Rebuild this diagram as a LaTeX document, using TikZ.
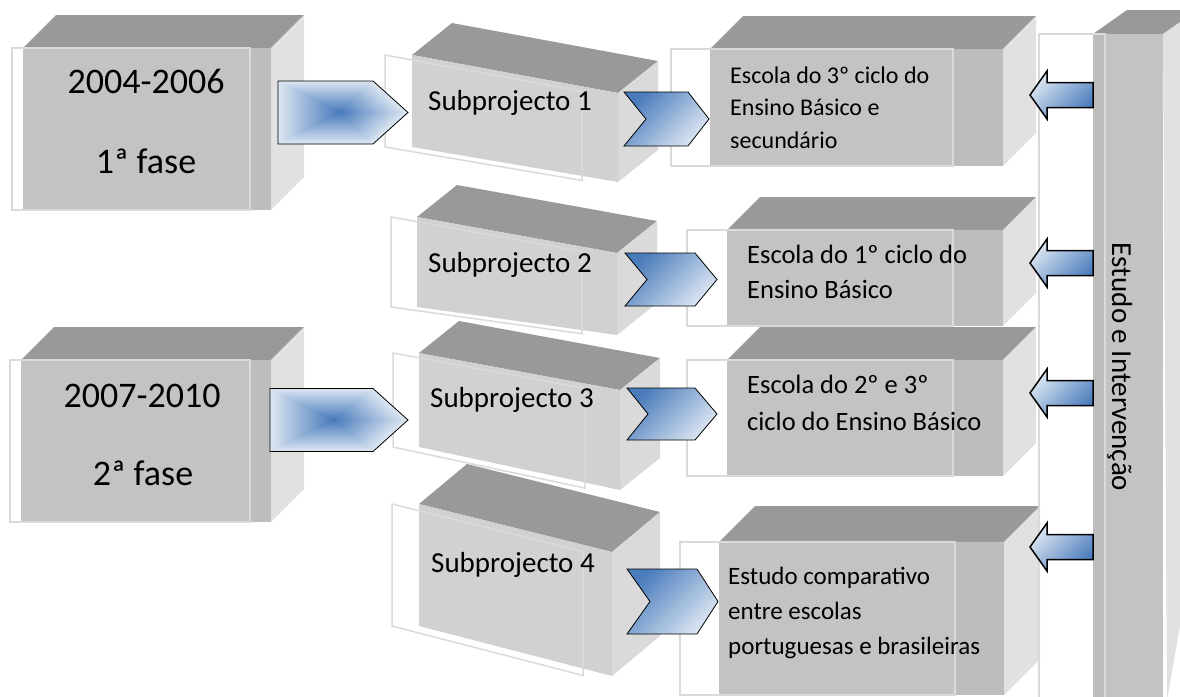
\documentclass[tikz,border=0pt]{standalone}
\usepackage{fontspec}
\setmainfont{Carlito}
\usetikzlibrary{positioning}

\definecolor{topgray}{HTML}{999999}
\definecolor{frontgray}{HTML}{C3C3C3}
\definecolor{stripgray}{HTML}{BDBDBD}
\definecolor{sidegray}{HTML}{E1E1E1}
\definecolor{subfront}{HTML}{D1D1D1}
\definecolor{subside}{HTML}{DADADA}
\definecolor{framegray}{HTML}{DADADA}
\definecolor{darkblue}{HTML}{4A7CBC}
\definecolor{lightblue}{HTML}{DCE6F2}

\begin{document}
\begin{tikzpicture}[x=1pt, y=-1pt,
  topface/.style={fill=topgray},
  frontface/.style={fill=frontgray},
  stripface/.style={fill=stripgray},
  sideface/.style={fill=sidegray},
  frameline/.style={draw=framegray, line width=1.5pt},
  phasearrow/.style={draw=black, line width=0.8pt},
  chevron/.style={draw=black, line width=0.8pt, top color=darkblue, bottom color=lightblue, shading angle=45},
  backarrow/.style={draw=black, line width=1.5pt, top color=lightblue, bottom color=darkblue, shading angle=45},
  phasetext/.style={font=\fontsize{36}{43}\selectfont, inner sep=0pt, anchor=base},
  subtext/.style={font=\fontsize{29}{35}\selectfont, inner sep=0pt, anchor=base west},
  schooltext/.style={inner sep=0pt, anchor=base west, align=left}]

\useasboundingbox (0,0) rectangle (1180,696);
\clip (0,0) rectangle (1180,696);

\foreach \xa/\xs/\xb/\dep/\ya/\yb/\fx in {23/250/271/33/48/210/12, 21/250/271/33/360/522/10,
    710/953/1003/33/49/166/671, 727/953/1003/33/230/326/687,
    727/953/1003/33/360/476/687, 719/955/1004/36/542/695/680}{
  \fill[topface] (\xa,\ya) -- (\xa+\dep,\ya-\dep) -- (\xb+\dep,\ya-\dep) -- (\xb,\ya) -- cycle;
  \fill[sideface] (\xb,\ya) -- (\xb+\dep,\ya-\dep) -- (\xb+\dep,\yb-\dep) -- (\xb,\yb) -- cycle;
  \fill[frontface] (\xa,\ya) rectangle (\xs,\yb);
  \fill[stripface] (\xs,\ya) rectangle (\xb,\yb);
  \draw[frameline] (\fx,\ya) rectangle (\xs,\yb);
}

\foreach \ax/\ay/\bx/\by/\cy/\dy/\ddx/\ddy/\sh/\fr in {412/55/618/93/182/147/40/32/27/582,
    417/217/617/253/335/307/40/32/26/582, 419/353/620/390/490/447/40/32/26/585,
    419/504/612/552/676/626/48/40/27/583}{
  \fill[topface] (\ax,\ay) -- (\ax+\ddx,\ay-\ddy) -- (\bx+\ddx,\by-\ddy) -- (\bx,\by) -- cycle;
  \fill[subside] (\bx,\by) -- (\bx+\ddx,\by-\ddy) -- (\bx+\ddx,\cy-\ddy) -- (\bx,\cy) -- cycle;
  \fill[subfront] (\ax,\ay) -- (\bx,\by) -- (\bx,\cy) -- (\ax,\dy) -- cycle;
  \draw[frameline] (\ax-\sh,\ay) -- (\fr,{\ay+(\by-\ay)*(\fr+\sh-\ax)/(\bx-\ax)})
    -- (\fr,{\dy+(\cy-\dy)*(\fr+\sh-\ax)/(\bx-\ax)}) -- (\ax-\sh,\dy) -- cycle;
}

\fill[topface] (1093,34) -- (1127,10) -- (1200,10) -- (1163,34) -- cycle;
\fill[sideface] (1163,34) -- (1197,10) -- (1197,530) -- (1167,700) -- cycle;
\fill[frontface] (1093,34) rectangle (1163,700);
\fill[stripface] (1093,34) rectangle (1105,700);
\draw[frameline] (1039,700) -- (1039,34) -- (1105,34) -- (1105,700);

\foreach \cx/\cy/\lw/\rw in {340/112.5/62/68, 334/420/64/74}{
  \foreach \i in {0,...,30}{
    \pgfmathsetmacro\fac{1-\i/31}
    \pgfmathsetmacro\pct{100*\i/30}
    \fill[darkblue!\pct!lightblue, shift={(\cx,\cy)}, scale=\fac]
      (-\lw,-31.5) -- (\rw-35,-31.5) -- (\rw,0) -- (\rw-35,31.5) -- (-\lw,31.5) -- cycle;
  }
  \draw[phasearrow] (\cx-\lw,\cy-31.5) -- (\cx+\rw-35,\cy-31.5) -- (\cx+\rw,\cy)
    -- (\cx+\rw-35,\cy+31.5) -- (\cx-\lw,\cy+31.5) -- cycle;
}

\foreach \xl/\xr/\xt/\xn/\yt/\yb in {624/688/709/646/92/146, 625/695/717/647/253/306,
    627/695/717/648/388/440, 627/697/718/650/569/634}
  \draw[chevron] (\xl,\yt) -- (\xr,\yt) -- (\xt,{(\yt+\yb)/2}) -- (\xr,\yb)
    -- (\xl,\yb) -- (\xn,{(\yt+\yb)/2}) -- cycle;

\foreach \ym in {95,263,393,547}
  \draw[backarrow] (1030,\ym) -- (1047,\ym-24) -- (1047,\ym-12.5) -- (1093,\ym-12.5)
    -- (1093,\ym+12.5) -- (1047,\ym+12.5) -- (1047,\ym+24) -- cycle;

\node[phasetext] (year1)  at (146,93)  {2004-2006};
\node[phasetext] (phase1) at (146,173) {1ª fase};
\node[phasetext] (year2)  at (142,407) {2007-2010};
\node[phasetext] (phase2) at (143,485) {2ª fase};

\node[subtext] (sub1) at (428,110) {Subprojecto 1};
\node[subtext] (sub2) at (428,272) {Subprojecto 2};
\node[subtext] (sub3) at (430,407) {Subprojecto 3};
\node[subtext] (sub4) at (431,572) {Subprojecto 4};

\node[schooltext, font=\fontsize{24}{32.5}\selectfont] (school1) at (730,148)
  {Escola do 3º ciclo do\\Ensino Básico e\\secundário};
\node[schooltext, font=\fontsize{26.5}{35}\selectfont] (school2) at (747,298)
  {Escola do 1º ciclo do\\Ensino Básico};
\node[schooltext, font=\fontsize{26.5}{37}\selectfont] (school3) at (747,430)
  {Escola do 2º e 3º\\ciclo do Ensino Básico};
\node[schooltext, font=\fontsize{25}{35}\selectfont] (school4) at (728,654)
  {Estudo comparativo\\entre escolas\\portuguesas e brasileiras};

\node[font=\fontsize{29}{35}\selectfont, inner sep=0pt, rotate=-90, anchor=base] (estudo)
  at (1112,367) {Estudo e Intervenção};

\end{tikzpicture}
\end{document}
